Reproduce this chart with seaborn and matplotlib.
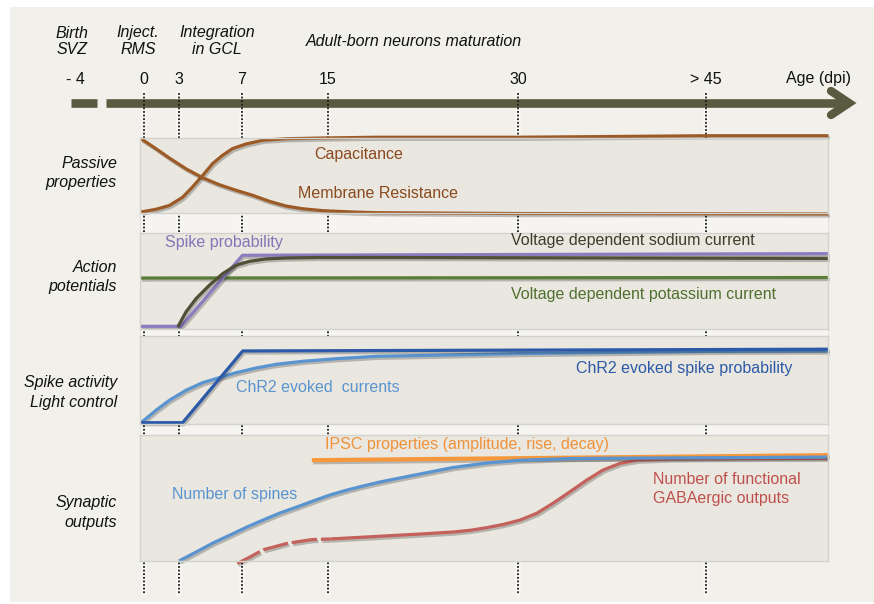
import numpy as np
import matplotlib
matplotlib.use("Agg")
import matplotlib.pyplot as plt
import matplotlib.patheffects as pe
from matplotlib.patches import Rectangle
import seaborn as sns

# ---------- data: ages in dpi, levels run 0 (panel bottom) .. 1 (panel top) ----------
tick_ages = [-4, 0, 3, 7, 15, 30, 45]
tick_labels = ['- 4', '0', '3', '7', '15', '30', '> 45']
dotted_ages = [0, 3, 7, 15, 30, 45]

# passive properties
cap_age = [-0.17, 1.03, 2.17, 3.23, 3.87, 4.50, 5.14, 5.77, 6.41, 7.37, 8.93, 11.09, 14.5, 18.8, 30, 45, 54.8]
cap_lvl = [0.013, 0.05, 0.10, 0.21, 0.35, 0.50, 0.66, 0.77, 0.86, 0.92, 0.97, 0.99, 1.00, 1.01, 1.01, 1.03, 1.03]
res_age = [-0.17, 1.03, 2.17, 3.44, 4.50, 5.56, 6.62, 7.99, 9.54, 11.09, 12.62, 14.5, 16.95, 18.8, 30, 54.8]
res_lvl = [0.99, 0.857, 0.733, 0.59, 0.47, 0.377, 0.303, 0.236, 0.156, 0.093, 0.057, 0.031, 0.013, 0.004, -0.007, -0.013]

# action potentials
spike_age = [-0.2, 3.13, 7.05, 54.8]
spike_lvl = [0.028, 0.028, 0.768, 0.785]
na_age = [2.89, 3.44, 4.08, 4.92, 5.77, 6.62, 7.68, 9.23, 11.09, 14.19, 18.8, 30, 54.8]
na_lvl = [0.02, 0.177, 0.316, 0.455, 0.576, 0.664, 0.705, 0.73, 0.74, 0.745, 0.745, 0.742, 0.735]
k_age = [-0.2, 54.8]
k_lvl = [0.531, 0.536]

# spike activity / light control
chr2_spk_age = [-0.2, 3.23, 7.07, 54.8]
chr2_spk_lvl = [0.015, 0.015, 0.83, 0.85]
chr2_cur_age = [-0.17, 1.03, 2.17, 3.44, 4.50, 5.56, 6.62, 8.30, 10.16, 12.62, 15.63, 18.8, 23.0, 30, 45, 54.8]
chr2_cur_lvl = [0.015, 0.156, 0.269, 0.383, 0.47, 0.526, 0.583, 0.636, 0.678, 0.712, 0.742, 0.769, 0.78, 0.80, 0.825, 0.83]

# synaptic outputs
ipsc_age = [13.5, 54.8]
ipsc_lvl = [0.80, 0.84]
spine_age = [3.0, 4.08, 5.16, 6.24, 7.47, 8.95, 10.53, 12.12, 13.6, 15.16, 16.5, 17.76, 19.1, 21.08,
             23.05, 24.87, 27.55, 30.16, 34.15, 39.5, 46.12, 54.68]
spine_lvl = [0.0, 0.071, 0.143, 0.206, 0.27, 0.325, 0.381, 0.429, 0.476, 0.524, 0.563, 0.595, 0.627, 0.667,
             0.706, 0.742, 0.778, 0.80, 0.813, 0.817, 0.82, 0.825]
gaba_early_age = [6.7, 7.7, 9.0, 9.9, 11.2, 13.5, 15.2]
gaba_early_lvl = [-0.02, 0.03, 0.09, 0.11, 0.14, 0.17, 0.175]
gaba_age = [15.2, 22.26, 24.87, 26.3, 27.55, 28.82, 30.16, 31.5, 32.79, 34.15, 35.5, 36.78, 38.14, 39.5, 42.13, 46.12, 54.68]
gaba_lvl = [0.175, 0.214, 0.23, 0.245, 0.265, 0.29, 0.325, 0.379, 0.458, 0.55, 0.643, 0.722, 0.775, 0.80, 0.81, 0.813, 0.815]

# ---------- schematic (non-linear) age axis ----------
knot_age = [-12, -4, 0, 3, 7, 15, 30, 45, 60]
knot_px = [-63, 75, 144, 179, 242, 328, 518, 706, 893.5]


def fwd(a):
    return np.interp(a, knot_age, knot_px)


def inv(p):
    return np.interp(p, knot_px, knot_age)


W, H = 874, 604
FS = 11.5
sns.set_theme(style='white')
plt.rcParams['font.family'] = ['Liberation Sans', 'DejaVu Sans']

fig = plt.figure(figsize=(W / 100, H / 100), dpi=100)
fig.patch.set_facecolor('white')


def age_axes(rect, x0, x1):
    ax = fig.add_axes(rect)
    ax.set_xscale('function', functions=(fwd, inv))
    ax.set_xlim(inv(x0), inv(x1))
    return ax


# background layer: page, timeline arrow, dotted guides, row titles
bg = age_axes([0, 0, 1, 1], 0, W)
bg.set_ylim(H, 0)
bg.axis('off')
bg.add_patch(Rectangle((10 / W, 2 / H), 864 / W, 595 / H, transform=bg.transAxes,
                       facecolor='#f1f0ea', edgecolor='none', zorder=0))
for top, bottom in [(213, 233), (329, 336), (424, 435)]:
    bg.add_patch(Rectangle((inv(140), top), inv(828) - inv(140), bottom - top,
                           facecolor='#f5f4f0', edgecolor='#e4e3de', lw=0.8, zorder=1))

for a in dotted_ages:
    bg.plot([a, a], [93, 594], color='#f8f7f3', lw=4, zorder=1.5)
    bg.plot([a, a], [93, 594], color='#1a1a1a', lw=1.3, ls=(0, (1, 1)), zorder=4)

arrow_c = '#5a5a40'
bg.plot([inv(71), inv(97)], [103, 103], color=arrow_c, lw=6.2, solid_capstyle='butt', zorder=2)
bg.plot([inv(106), inv(849)], [103, 103], color=arrow_c, lw=6.2, solid_capstyle='butt', zorder=2)
bg.plot([inv(831), inv(849), inv(831)], [91, 103, 115], color=arrow_c, lw=6,
        solid_capstyle='round', solid_joinstyle='miter', zorder=2)

for a, lab in zip(tick_ages, tick_labels):
    bg.text(a, 80, lab, ha='center', va='center', fontsize=FS, color='#111111')
bg.text(inv(818), 78, 'Age (dpi)', ha='center', va='center', fontsize=FS, color='#111111')

head = dict(ha='center', va='center', fontsize=FS, style='italic', color='#111111')
bg.text(inv(72), 33, 'Birth', **head)
bg.text(inv(72), 50, 'SVZ', **head)
bg.text(inv(138), 33, 'Inject.', **head)
bg.text(inv(138), 50, 'RMS', **head)
bg.text(inv(217), 33, 'Integration', **head)
bg.text(inv(217), 50, 'in GCL', **head)
bg.text(inv(306), 41, 'Adult-born neurons maturation', ha='left', va='center',
        fontsize=FS, style='italic', color='#111111')

row = dict(ha='right', va='center', fontsize=FS, style='italic', color='#111111')
for (l1, y1), (l2, y2) in [(('Passive', 164), ('properties', 183)),
                           (('Action', 268), ('potentials', 286)),
                           (('Spike activity', 383), ('Light control', 402)),
                           (('Synaptic', 503), ('outputs', 522))]:
    bg.text(inv(117), y1, l1, **row)
    bg.text(inv(117), y2, l2, **row)

# ---------- panels ----------
panels = [(138, 213), (233, 329), (336, 424), (435, 561)]
axes = []
for top, bottom in panels:
    ax = age_axes([140 / W, 1 - bottom / H, 688 / W, (bottom - top) / H], 140, 828)
    ax.set_facecolor('#e9e7df')
    for s in ax.spines.values():
        s.set_color('#d3d3ce')
        s.set_linewidth(1)
    axes.append(ax)


def curve(ax, ages, lvls, color, lw=2.3, **kw):
    sns.lineplot(x=ages, y=lvls, ax=ax, color=color, lw=lw, clip_on=False,
                 estimator=None, sort=False, solid_capstyle='butt', solid_joinstyle='round',
                 path_effects=[pe.SimpleLineShadow(offset=(1, -1.5), alpha=0.25), pe.Normal()], **kw)


brown = '#9c5a26'
curve(axes[0], cap_age, cap_lvl, brown)
curve(axes[0], res_age, res_lvl, brown)

curve(axes[1], k_age, k_lvl, '#5b7d3a')
curve(axes[1], spike_age, spike_lvl, '#8b7bbf')
curve(axes[1], na_age, na_lvl, '#4e5038')

curve(axes[2], chr2_cur_age, chr2_cur_lvl, '#5a94d0')
curve(axes[2], chr2_spk_age, chr2_spk_lvl, '#2c5aa8')

curve(axes[3], ipsc_age, ipsc_lvl, '#f5983c', lw=3)
curve(axes[3], gaba_early_age, gaba_early_lvl, '#c5615c', linestyle=(0, (8, 1.2)))
curve(axes[3], gaba_age, gaba_lvl, '#c5615c')
curve(axes[3], spine_age, spine_lvl, '#5a94d0')

for ax in axes:
    ax.set_ylim(0, 1)
    ax.set_xlim(inv(140), inv(828))
    ax.set_xticks([])
    ax.set_yticks([])
    ax.set_xlabel('')
    ax.set_ylabel('')

# ---------- curve labels on top ----------
ov = age_axes([0, 0, 1, 1], 0, W)
ov.set_ylim(H, 0)
ov.axis('off')
ov.patch.set_alpha(0)
lab = dict(ha='left', va='center', fontsize=FS)
ov.text(inv(314), 155, 'Capacitance', color='#8a4a1f', **lab)
ov.text(inv(298), 194, 'Membrane Resistance', color='#8a4a1f', **lab)
ov.text(inv(165), 242, 'Spike probability', color='#8574b8', **lab)
ov.text(inv(511), 240, 'Voltage dependent sodium current', color='#3d3d2c', **lab)
ov.text(inv(511), 295, 'Voltage dependent potassium current', color='#50702f', **lab)
ov.text(inv(236), 388, 'ChR2 evoked  currents', color='#5a94d0', **lab)
ov.text(inv(576), 368, 'ChR2 evoked spike probability', color='#2c5aa8', **lab)
ov.text(inv(325), 445, 'IPSC properties (amplitude, rise, decay)', color='#f0923a', **lab)
ov.text(inv(172), 495, 'Number of spines', color='#5a94d0', **lab)
ov.text(inv(653), 479, 'Number of functional', color='#c0504d', **lab)
ov.text(inv(653), 498, 'GABAergic outputs', color='#c0504d', **lab)

fig.savefig('out.png', dpi=100, facecolor='white')
